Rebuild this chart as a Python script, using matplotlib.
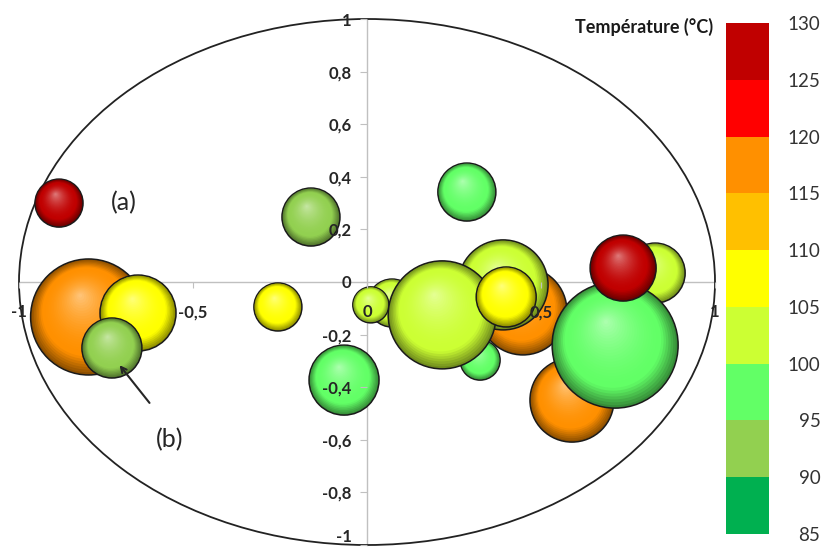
import numpy as np
import matplotlib
matplotlib.use("Agg")
import matplotlib.pyplot as plt
from matplotlib.colors import ListedColormap, BoundaryNorm, to_rgb
from matplotlib.patches import Ellipse
from matplotlib.cm import ScalarMappable

plt.rcParams["font.family"] = ["Lato", "DejaVu Sans"]

# correlation-circle coordinates of each sample, bubble size and temperature
comp1 = [-0.80, -0.658, -0.733, -0.885, -0.256, -0.161, -0.066, 0.287, 0.325,
         0.072, 0.011, 0.448, 0.391, 0.216, 0.400, 0.589, 0.828, 0.713, 0.736]
comp2 = [-0.133, -0.118, -0.251, 0.300, -0.095, 0.247, -0.373, 0.342, -0.297,
         -0.080, -0.087, -0.110, -0.011, -0.125, -0.057, -0.449, 0.034, -0.240, 0.053]
bubble_size = [58, 38, 30, 24, 24, 29, 35, 29, 20,
               24, 18, 44, 45, 54, 30, 42, 30, 63, 33]
temperature = [117, 107, 92, 127, 108, 93, 97, 98, 96,
               103, 102, 118, 101, 102, 106, 116, 104, 97, 128]

temp_bounds = [85, 90, 95, 100, 105, 110, 115, 120, 125, 130]
band_colors = ["#00b050", "#92d050", "#62ff66", "#ccff33", "#ffff00",
               "#ffc000", "#ff9000", "#ff0000", "#c00000"]

x_ticks = [-1, -0.5, 0, 0.5, 1]
x_labels = ["-1", "-0,5", "0", "0,5", "1"]
y_ticks = [-1, -0.8, -0.6, -0.4, -0.2, 0, 0.2, 0.4, 0.6, 0.8, 1]
y_labels = ["-1", "-0,8", "-0,6", "-0,4", "-0,2", "0", "0,2", "0,4", "0,6", "0,8", "1"]

cmap = ListedColormap(band_colors)
norm = BoundaryNorm(temp_bounds, cmap.N)

W, H = 822, 547
fig = plt.figure(figsize=(W / 100, H / 100), dpi=100)
ax = fig.add_axes([19 / W, 2 / H, 696 / W, 526 / H])
ax.set_xlim(-1, 1)
ax.set_ylim(-1, 1)

for side in ["top", "right"]:
    ax.spines[side].set_visible(False)
for side in ["left", "bottom"]:
    ax.spines[side].set_position(("data", 0))
    ax.spines[side].set_color("#c0c0c0")
    ax.spines[side].set_linewidth(1.0)
    ax.spines[side].set_zorder(0.5)

ax.set_xticks(x_ticks, x_labels)
ax.set_yticks(y_ticks, y_labels)
ax.tick_params(axis="x", length=4, color="#c0c0c0", pad=12)
ax.tick_params(axis="y", length=5, color="#c0c0c0", pad=6)
for lab in ax.get_xticklabels() + ax.get_yticklabels():
    lab.set_fontweight("bold")
    lab.set_fontsize(12)
    lab.set_color("#262626")
ax.get_yticklabels()[0].set_verticalalignment("bottom")
ax.xaxis.set_zorder(10)
ax.yaxis.set_zorder(10)

# unit circle
ax.add_patch(Ellipse((0, 0), 2, 2, fill=False, edgecolor="#222222",
                     linewidth=1.3, clip_on=False, zorder=0.6))


def shade(base, t):
    base = np.array(base)
    dark = base * 0.55
    light = base + 0.5 * (1 - base)
    if t < 0.22:
        return dark + (base - dark) * (t / 0.22)
    u = ((t - 0.22) / 0.78) ** 1.8
    return base + (light - base) * u


n_layers = 30
hx, hy = -0.15, 0.38
for i, (x, y, r, temp) in enumerate(zip(comp1, comp2, bubble_size, temperature)):
    base = to_rgb(cmap(norm(temp)))
    cx, cy = ax.transData.transform((x, y))
    pts, sizes, cols, lws = [], [], [], []
    for k in range(n_layers):
        t = k / n_layers
        f = 1 - t
        pts.append((cx + (1 - f) * hx * r, cy + (1 - f) * hy * r))
        sizes.append((2 * f * r * 0.72) ** 2)
        cols.append(np.clip(shade(base, t), 0, 1))
        lws.append(1.1 if k == 0 else 0)
    dpts = ax.transData.inverted().transform(pts)
    ax.scatter(dpts[:, 0], dpts[:, 1], s=sizes, c=cols, edgecolors="#1a1a1a",
               linewidths=lws, clip_on=False, zorder=1 + i * 0.1)

ax.text(-0.70, 0.30, "(a)", fontsize=18, ha="center", va="center",
        color="#262626", zorder=9)
ax.text(-0.566, -0.60, "(b)", fontsize=18, ha="center", va="center",
        color="#262626", zorder=9)
ax.annotate("", xy=(-0.716, -0.308), xytext=(-0.62, -0.468),
            arrowprops=dict(arrowstyle="->", lw=1.5, color="#262626"), zorder=9)

# colour scale
cax = fig.add_axes([726 / W, (H - 534) / H, 43 / W, 511 / H])
cb = fig.colorbar(ScalarMappable(norm=norm, cmap=cmap), cax=cax, ticks=temp_bounds)
cb.outline.set_visible(False)
cax.tick_params(length=0, pad=37, labelsize=13.5, labelcolor="#333333")
for tk in cax.yaxis.get_major_ticks():
    tk.label2.set_horizontalalignment("right")

fig.text(713 / W, 1 - 27 / H, "Température (°C)", ha="right", va="center",
         fontsize=13, fontweight="bold", color="#1a1a1a")

fig.savefig("out.png", dpi=100)
